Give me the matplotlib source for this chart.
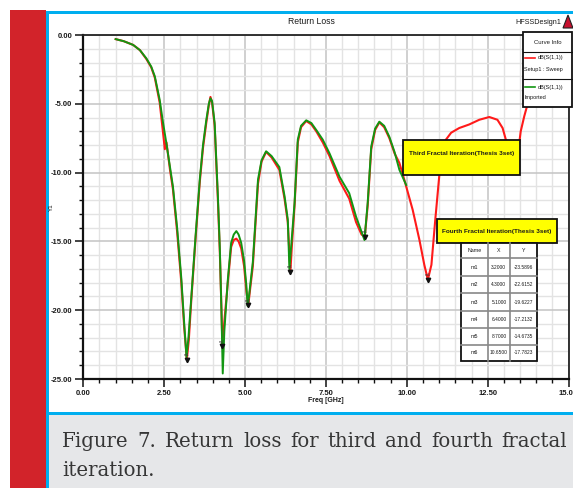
import matplotlib
matplotlib.use("Agg")
import matplotlib.pyplot as plt
from matplotlib.patches import Rectangle, Polygon
from matplotlib.lines import Line2D
from matplotlib.ticker import MultipleLocator, FixedLocator, FixedFormatter

# ---------------- data ----------------
# dB(S(1,1)) Setup1 : Sweep  (fourth iteration)
freq_sweep = [
    1.00, 1.25, 1.54, 1.75, 1.95, 2.10, 2.21, 2.36, 2.46, 2.52,
    2.57, 2.68, 2.77, 2.90, 3.03, 3.12, 3.20, 3.26, 3.34, 3.47,
    3.60, 3.70, 3.80, 3.88, 3.93, 3.98, 4.06, 4.16, 4.22, 4.27,
    4.30, 4.36, 4.47, 4.57, 4.65, 4.73, 4.80, 4.88, 4.97, 5.04,
    5.10, 5.15, 5.24, 5.32, 5.40, 5.51, 5.65, 5.82, 6.06, 6.22,
    6.32, 6.40, 6.45, 6.53, 6.63, 6.73, 6.89, 7.05, 7.20, 7.40,
    7.61, 7.92, 8.22, 8.43, 8.60, 8.70, 8.79, 8.90, 9.02, 9.15,
    9.30, 9.46, 9.62, 9.77, 9.92, 10.18, 10.39, 10.54, 10.65, 10.76,
    10.88, 11.00, 11.06, 11.21, 11.37, 11.62, 11.93, 12.24, 12.55, 12.80,
    12.96, 13.06, 13.25, 13.45, 13.52, 13.63, 13.70, 13.85,
]
db_sweep = [
    -0.30, -0.45, -0.72, -1.10, -1.75, -2.35, -3.10, -4.90, -7.00, -8.30,
    -7.80, -9.80, -11.20, -14.30, -18.00, -21.30, -23.59, -22.20, -19.20, -14.80,
    -10.70, -8.20, -6.40, -5.10, -4.50, -4.90, -6.60, -12.00, -15.80, -19.90,
    -22.62, -20.80, -17.90, -15.40, -14.90, -14.80, -15.00, -15.50, -16.80, -18.60,
    -19.62, -18.60, -16.80, -13.80, -10.80, -9.20, -8.50, -8.90, -9.80, -11.90,
    -13.60, -17.21, -15.20, -12.40, -7.80, -6.70, -6.25, -6.50, -7.00, -7.80,
    -8.80, -10.60, -11.90, -13.60, -14.50, -14.67, -12.40, -8.30, -6.90, -6.35,
    -6.70, -7.50, -8.60, -9.30, -10.50, -12.70, -14.90, -16.70, -17.78, -16.70,
    -13.40, -10.30, -8.30, -7.60, -7.10, -6.76, -6.50, -6.16, -5.96, -6.16,
    -6.76, -7.60, -8.20, -8.30, -7.00, -5.90, -5.30, -4.00,
]

# dB(S(1,1)) Imported  (third iteration)
freq_imported = [
    1.00, 1.25, 1.54, 1.75, 1.95, 2.10, 2.21, 2.36, 2.46, 2.57,
    2.68, 2.77, 2.90, 3.03, 3.12, 3.19, 3.25, 3.34, 3.47, 3.60,
    3.70, 3.80, 3.88, 3.93, 3.98, 4.06, 4.16, 4.22, 4.27, 4.31,
    4.36, 4.47, 4.57, 4.65, 4.73, 4.80, 4.88, 4.97, 5.04, 5.08,
    5.12, 5.24, 5.32, 5.40, 5.51, 5.65, 5.82, 6.06, 6.22, 6.32,
    6.37, 6.42, 6.53, 6.63, 6.73, 6.89, 7.05, 7.20, 7.40, 7.61,
    7.92, 8.22, 8.43, 8.60, 8.69, 8.79, 8.90, 9.02, 9.15, 9.30,
    9.46, 9.62, 9.77, 9.98,
]
db_imported = [
    -0.30, -0.45, -0.72, -1.10, -1.70, -2.30, -3.00, -4.70, -6.30, -7.90,
    -9.60, -11.00, -14.00, -17.70, -21.00, -23.40, -22.00, -19.00, -14.60, -10.50,
    -8.00, -6.20, -5.00, -4.60, -4.80, -6.40, -11.70, -15.50, -20.10, -24.60,
    -21.50, -17.70, -15.10, -14.50, -14.25, -14.50, -15.10, -16.40, -18.20, -19.70,
    -19.00, -16.50, -13.50, -10.50, -9.10, -8.45, -8.80, -9.60, -11.70, -13.40,
    -17.00, -15.50, -12.20, -7.60, -6.60, -6.20, -6.40, -6.90, -7.60, -8.60,
    -10.30, -11.50, -13.20, -14.30, -14.90, -12.20, -8.10, -6.80, -6.30, -6.60,
    -7.40, -8.50, -9.80, -10.90,
]

# markers on the sweep curve
marker_names = ["m1", "m2", "m3", "m4", "m5", "m6"]
marker_freq = [3.20, 4.30, 5.10, 6.40, 8.70, 10.65]
marker_db = [-23.5896, -22.6152, -19.6227, -17.2132, -14.6735, -17.7823]

x_ticks = [0.0, 2.5, 5.0, 7.5, 10.0, 12.5, 15.0]
x_tick_labels = ["0.00", "2.50", "5.00", "7.50", "10.00", "12.50", "15.00"]
y_ticks = [0.0, -5.0, -10.0, -15.0, -20.0, -25.0]
y_tick_labels = ["0.00", "-5.00", "-10.00", "-15.00", "-20.00", "-25.00"]

caption_line1 = "Figure 7. Return loss for third and fourth fractal"
caption_line2 = "iteration."

# ---------------- figure & page frame ----------------
W, H = 573, 488
fig = plt.figure(figsize=(W / 100, H / 100), dpi=100, facecolor="white")

RED_BAR = "#d2232a"
CYAN = "#00aeef"
CAPTION_BG = "#e6e7e9"
HFSS_FONT = "Liberation Sans"
TXT = "#1a1a1a"


def fx(px):
    return px / W


def fy(py):
    return 1 - py / H


def frect(x0, y0, x1, y1, **kw):
    r = Rectangle((fx(x0), fy(y1)), (x1 - x0) / W, (y1 - y0) / H,
                  transform=fig.transFigure, **kw)
    fig.add_artist(r)
    return r


def fline(x0, y0, x1, y1, **kw):
    fig.add_artist(Line2D([fx(x0), fx(x1)], [fy(y0), fy(y1)],
                          transform=fig.transFigure, **kw))


def ftext(x, y, s, **kw):
    kw.setdefault("family", HFSS_FONT)
    kw.setdefault("color", TXT)
    return fig.text(fx(x), fy(y), s, **kw)


frect(10, 10, 46, 488, facecolor=RED_BAR, lw=0, zorder=1)
frect(46, 11, 49, 488, facecolor=CYAN, lw=0, zorder=1)
frect(49, 11, 573, 14, facecolor=CYAN, lw=0, zorder=1)
frect(49, 415, 573, 488, facecolor=CAPTION_BG, lw=0, zorder=1)
frect(49, 412, 573, 415, facecolor=CYAN, lw=0, zorder=1)

# ---------------- plot axes ----------------
AX_L, AX_R, AX_T, AX_B = 83.3, 568.6, 35, 379
ax = fig.add_axes([fx(AX_L), fy(AX_B), (AX_R - AX_L) / W, (AX_B - AX_T) / H])
ax.set_facecolor("white")
ax.set_xlim(0, 15)
ax.set_ylim(-25, 0)

ax.xaxis.set_major_locator(FixedLocator(x_ticks))
ax.xaxis.set_major_formatter(FixedFormatter(x_tick_labels))
ax.yaxis.set_major_locator(FixedLocator(y_ticks))
ax.yaxis.set_major_formatter(FixedFormatter(y_tick_labels))
ax.xaxis.set_minor_locator(MultipleLocator(0.5))
ax.yaxis.set_minor_locator(MultipleLocator(1.0))

ax.set_axisbelow(True)
ax.grid(which="minor", color="#e3e3e3", lw=1.0)
ax.grid(which="major", color="#c4c4c4", lw=1.1)

for side in ("left", "bottom"):
    ax.spines[side].set_linewidth(1.6)
    ax.spines[side].set_color("#111111")
for side in ("top", "right"):
    ax.spines[side].set_linewidth(1.3)
    ax.spines[side].set_color("#222222")

ax.tick_params(which="major", direction="out", length=6, width=1.1,
               labelsize=5.5, pad=2, colors="#111111", labelcolor=TXT)
ax.tick_params(which="minor", direction="out", length=3, width=1.0,
               colors="#111111")
for lab in ax.get_xticklabels() + ax.get_yticklabels():
    lab.set_family(HFSS_FONT)
    lab.set_fontweight("bold")

ax.plot(freq_sweep, db_sweep, color="#ff1a1a", lw=1.5, zorder=3)
ax.plot(freq_imported, db_imported, color="#129612", lw=1.4, zorder=4)

ax.plot(marker_freq, marker_db, "v", ms=3.2, color="#111111", zorder=5,
        clip_on=False)
for name, f, d in zip(marker_names, marker_freq, marker_db):
    ax.annotate(name, (f, d), xytext=(-2.5, 2.5), textcoords="offset points",
                fontsize=3, color="#333333", family=HFSS_FONT, zorder=6)

# axis titles
ftext(311, 22, "Return Loss", ha="center", va="center", fontsize=6.2)
ftext((AX_L + AX_R) / 2, 401, "Freq [GHz]", ha="center", va="center",
      fontsize=5, fontweight="bold")
ftext(51, 207, "Y1", ha="center", va="center", fontsize=4.5, rotation=90)

# design name and logo
ftext(538, 22, "HFSSDesign1", ha="center", va="center", fontsize=5.2)
fig.add_artist(Polygon([[fx(563), fy(28)], [fx(568), fy(15)], [fx(573), fy(28)]],
                       closed=True, transform=fig.transFigure,
                       facecolor="#c8102e", edgecolor="#222222", lw=0.8,
                       zorder=9))

# ---------------- curve info box ----------------
frect(523, 32, 572, 107, facecolor="white", edgecolor="#111111", lw=1.3,
      zorder=10)
ftext(547.5, 42, "Curve Info", ha="center", va="center", fontsize=4.3,
      zorder=11)
fline(523, 51.5, 572, 51.5, color="#111111", lw=0.8, zorder=11)
fline(525, 58, 535, 58, color="#ff1a1a", lw=1.2, zorder=11)
ftext(538, 58, "dB(S(1,1))", ha="left", va="center", fontsize=4.0, zorder=11)
ftext(524.5, 69, "Setup1 : Sweep", ha="left", va="center", fontsize=4.0,
      zorder=11)
fline(523, 79, 572, 79, color="#111111", lw=0.8, zorder=11)
fline(525, 87, 535, 87, color="#129612", lw=1.2, zorder=11)
ftext(538, 87, "dB(S(1,1))", ha="left", va="center", fontsize=4.0, zorder=11)
ftext(524.5, 98, "Imported", ha="left", va="center", fontsize=4.0, zorder=11)

# ---------------- iteration labels ----------------
frect(403, 140, 520, 175, facecolor="#ffff00", edgecolor="#111111", lw=1.3,
      zorder=10)
ftext(461.5, 153, "Third Fractal Iteration(Thesis 3set)", ha="center",
      va="center", fontsize=4.6, fontweight="bold", zorder=11)

frect(436.7, 219.3, 556.7, 243.3, facecolor="#ffff00", edgecolor="#111111",
      lw=1.3, zorder=10)
ftext(496.7, 231, "Fourth Fractal Iteration(Thesis 3set)", ha="center",
      va="center", fontsize=4.6, fontweight="bold", zorder=11)

# ---------------- marker table ----------------
col_edges = [460.7, 487.7, 510.0, 536.7]
row_edges = [243.3, 258.3, 276.0, 293.3, 310.7, 328.3, 345.0, 361.0]
frect(col_edges[0], row_edges[0], col_edges[-1], row_edges[-1],
      facecolor="white", edgecolor="#111111", lw=1.3, zorder=10)
for xc in col_edges[1:-1]:
    fline(xc, row_edges[0], xc, row_edges[-1], color="#888888", lw=1.2,
          zorder=11)
for yr in row_edges[1:-1]:
    fline(col_edges[0], yr, col_edges[-1], yr, color="#888888", lw=1.2,
          zorder=11)

header = ["Name", "X", "Y"]
centers = [(col_edges[i] + col_edges[i + 1]) / 2 for i in range(3)]
for c, h in zip(centers, header):
    ftext(c, (row_edges[0] + row_edges[1]) / 2, h, ha="center", va="center",
          fontsize=3.8, zorder=12)
for i, (name, f, d) in enumerate(zip(marker_names, marker_freq, marker_db)):
    yc = (row_edges[i + 1] + row_edges[i + 2]) / 2
    ftext(centers[0], yc, name, ha="center", va="center", fontsize=3.8,
          zorder=12)
    ftext(centers[1], yc, f"{f:.4f}", ha="center", va="center", fontsize=3.5,
          zorder=12)
    ftext(centers[2], yc, f"{d:.4f}", ha="center", va="center", fontsize=3.5,
          zorder=12)

# ---------------- caption (justified first line) ----------------
CAP_FONT = dict(family="DejaVu Serif", fontsize=14.2, color="#363636")
renderer = fig.canvas.get_renderer()
words = caption_line1.split()
word_texts = [fig.text(0, fy(447), w, va="baseline", ha="left", zorder=5,
                       **CAP_FONT) for w in words]
widths = [t.get_window_extent(renderer).width for t in word_texts]
left, right = 62, 567
gap = (right - left - sum(widths)) / (len(words) - 1)
xpos = left
for t, wdt in zip(word_texts, widths):
    t.set_x(fx(xpos))
    xpos += wdt + gap
fig.text(fx(left), fy(476), caption_line2, va="baseline", ha="left", zorder=5,
         **CAP_FONT)

fig.savefig("out.png", dpi=100, facecolor="white")
